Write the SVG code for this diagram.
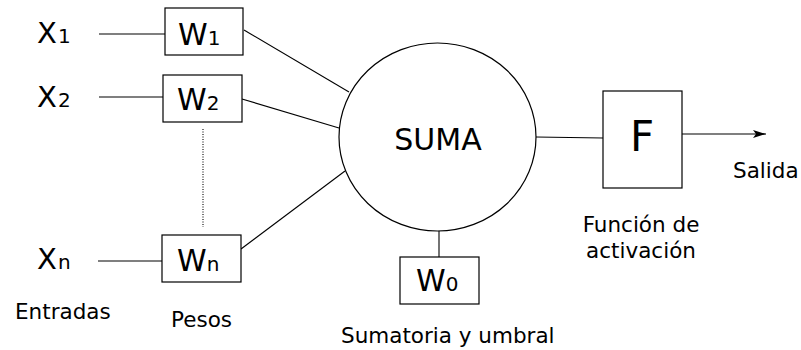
<svg xmlns="http://www.w3.org/2000/svg" width="801" height="350" viewBox="0 0 801 350">
<defs>
<marker id="arr" markerWidth="14" markerHeight="10" refX="13" refY="5" orient="auto" markerUnits="userSpaceOnUse">
<path d="M0,1 L13,5 L0,9 L3,5 Z" fill="#000"/>
</marker>
<style>
text{font-family:"DejaVu Sans",sans-serif;fill:#000}
.box{fill:#fff;stroke:#000;stroke-width:1.2}
.ln{stroke:#000;stroke-width:1.1;fill:none}
.sym{font-size:29px}
.sub{font-size:20px}
.w{font-size:30px}
.lbl{font-size:21.5px}
</style>
</defs>
<rect width="801" height="350" fill="#fff"/>
<g id="connectors">
<line class="ln" x1="99" y1="34" x2="165" y2="34"/>
<line class="ln" x1="99" y1="97" x2="163" y2="97"/>
<line class="ln" x1="98" y1="261" x2="162" y2="261"/>
<line class="ln" x1="244" y1="30" x2="349" y2="92"/>
<line class="ln" x1="242" y1="99" x2="339" y2="128"/>
<line class="ln" x1="241" y1="249" x2="345" y2="171"/>
<line class="ln" x1="203" y1="129" x2="203" y2="227" stroke-dasharray="1,1.5"/>
<line class="ln" x1="439" y1="231" x2="439" y2="257"/>
<line class="ln" x1="536" y1="137" x2="603" y2="138"/>
<line class="ln" x1="682" y1="134" x2="766" y2="134" marker-end="url(#arr)"/>
</g>
<g id="x1"><text x="37" y="43"><tspan class="sym">X</tspan><tspan class="sub" dx="1">1</tspan></text></g>
<g id="x2"><text x="37" y="107"><tspan class="sym">X</tspan><tspan class="sub" dx="1">2</tspan></text></g>
<g id="xn"><text x="37" y="269"><tspan class="sym">X</tspan><tspan class="sub" dx="1">n</tspan></text></g>
<g id="w1"><rect class="box" x="165" y="8" width="78" height="47"/><text x="178" y="45"><tspan class="w">W</tspan><tspan class="sub">1</tspan></text></g>
<g id="w2"><rect class="box" x="163" y="75" width="79" height="47"/><text x="177" y="110"><tspan class="w">W</tspan><tspan class="sub">2</tspan></text></g>
<g id="wn"><rect class="box" x="162" y="235" width="79" height="47"/><text x="177" y="271"><tspan class="w">W</tspan><tspan class="sub">n</tspan></text></g>
<g id="suma"><ellipse cx="437.5" cy="137" rx="98.5" ry="94" fill="#fff" stroke="#000" stroke-width="1.2"/><text x="438" y="150" text-anchor="middle" font-size="30">SUMA</text></g>
<g id="w0"><rect class="box" x="400" y="257" width="79" height="47"/><text x="416" y="291"><tspan class="w">W</tspan><tspan class="sub">0</tspan></text></g>
<g id="f"><rect class="box" x="603" y="91" width="79" height="97"/><text x="642" y="151" text-anchor="middle" font-size="42">F</text></g>
<g id="labels">
<text class="lbl" x="15" y="319">Entradas</text>
<text class="lbl" x="171" y="327">Pesos</text>
<text class="lbl" x="341" y="343">Sumatoria y umbral</text>
<text class="lbl" x="733" y="178">Salida</text>
<text class="lbl" x="641" y="232" text-anchor="middle">Función de</text>
<text class="lbl" x="641" y="258" text-anchor="middle">activación</text>
</g>
</svg>
